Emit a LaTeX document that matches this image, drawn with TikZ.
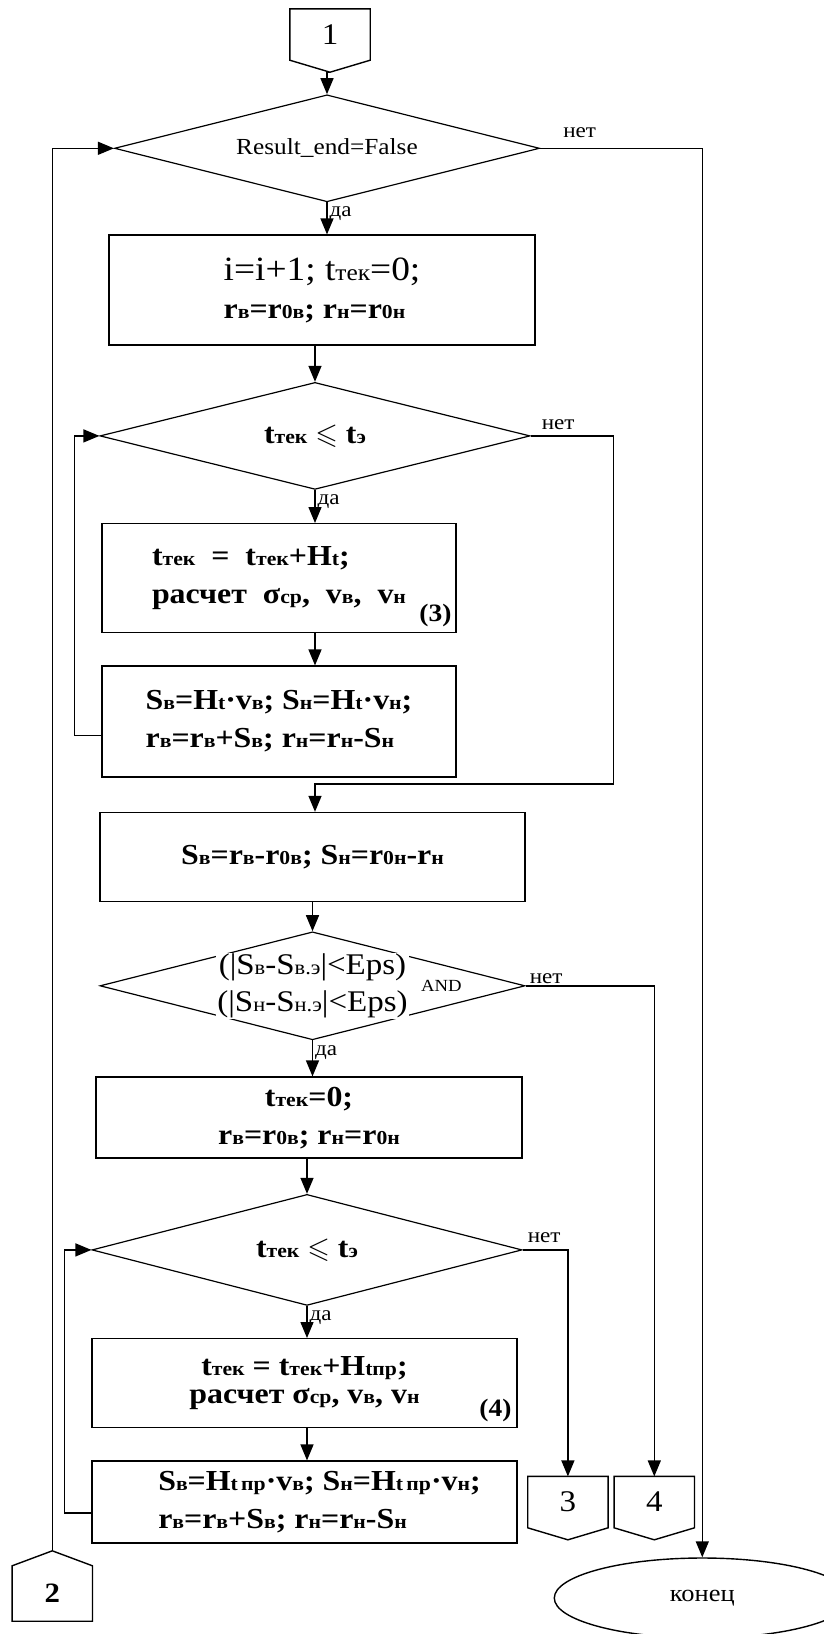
\documentclass[tikz,border=0pt]{standalone}
\usepackage{fontspec}
\usepackage{amssymb}
\setmainfont{Liberation Serif}[FakeStretch=1.1]
\usetikzlibrary{shapes.geometric, arrows.meta, positioning}

\newcommand\lw[1]{\scalebox{0.68}{#1}}
\newcommand\rb{\textbf{r}}

\tikzset{
  proc/.style={draw, rectangle, line width=1.4pt, inner sep=0pt, font=\bfseries\fontsize{29}{38}\selectfont},
  cond/.style={draw, diamond, aspect=4, line width=1.2pt, inner sep=0pt, font=\bfseries\fontsize{29}{38}\selectfont},
  conn/.style={minimum width=80pt, minimum height=51pt, inner sep=0pt, font=\fontsize{30}{30}\selectfont},
  stop/.style={draw, ellipse, line width=1.4pt, minimum width=296pt, minimum height=80pt, inner sep=0pt, font=\fontsize{24}{24}\selectfont},
  line/.style={line width=1.4pt},
  flow/.style={line width=1.4pt, -{Triangle[length=16pt,width=13pt]}},
  lbl/.style={inner sep=1pt, font=\fontsize{21}{21}\selectfont},
}

\begin{document}
\begin{tikzpicture}[x=1pt,y=-1pt]
\useasboundingbox (0,0) rectangle (823,1634);
\fill[white] (0,0) rectangle (823,1634);

\node[conn] (c1) at (330,34.5) {1};
\node[cond, minimum width=425pt, minimum height=107pt, below=34pt of c1, xshift=-3pt, font=\fontsize{23}{23}\selectfont] (d1) {Result\_end=False};
\node[proc, minimum width=426pt, minimum height=110pt, below=32pt of d1, xshift=-5pt, align=left] (b1)
  {{\mdseries\fontsize{34}{38}\selectfont i=i+1; t\lw{тек}=0;}\\ \rb\lw{в}=\rb\lw{0в}; \rb\lw{н}=\rb\lw{0н}};
\node[cond, minimum width=430pt, minimum height=107pt, below=36pt of b1, xshift=-7pt] (d2)
  {t\lw{тек} $\leqslant$ t\lw{э}};
\node[proc, minimum width=354pt, minimum height=109pt, below=33pt of d2, xshift=-36pt, align=left] (b2a)
  {t\lw{тек} \ = \ t\lw{тек}+H\lw{t};\\ расчет \ σ\lw{ср}, \ v\lw{в}, \ v\lw{н}};
\node[proc, minimum width=354pt, minimum height=111pt, below=32pt of b2a, align=left] (b2b)
  {S\lw{в}=H\lw{t}·v\lw{в}; S\lw{н}=H\lw{t}·v\lw{н};\\ \rb\lw{в}=\rb\lw{в}+S\lw{в}; \rb\lw{н}=\rb\lw{н}-S\lw{н}};
\node[inner sep=0pt, font=\bfseries\fontsize{25}{25}\selectfont, above left=6pt and 5pt of b2a.south east] (n3) {(3)};
\node[proc, minimum width=425pt, minimum height=89pt, below=34pt of b2b, xshift=33.5pt] (b3)
  {S\lw{в}=\rb\lw{в}-\rb\lw{0в}; S\lw{н}=\rb\lw{0н}-\rb\lw{н}};
\node[cond, minimum width=425pt, minimum height=108pt, below=29pt of b3] (d3) {};
\node[fill=white, inner sep=1pt, align=center, font=\fontsize{30}{37}\selectfont] (e3) at (d3)
  {(|S\lw{в}-S\lw{в.э}|<Eps)\\(|S\lw{н}-S\lw{н.э}|<Eps)};
\node[inner sep=0pt, font=\fontsize{17}{17}\selectfont, right=12pt of e3] (and3) {AND};
\node[proc, minimum width=426pt, minimum height=81pt, below=36pt of d3, xshift=-3.5pt, align=center] (b4)
  {t\lw{тек}=0;\\ \rb\lw{в}=\rb\lw{0в}; \rb\lw{н}=\rb\lw{0н}};
\node[cond, minimum width=430pt, minimum height=111pt, below=35pt of b4, xshift=-2pt] (d4)
  {t\lw{тек} $\leqslant$ t\lw{э}};
\node[proc, minimum width=425pt, minimum height=89pt, below=32pt of d4, xshift=-2.5pt, align=center, font=\bfseries\fontsize{29}{28}\selectfont] (b5a)
  {t\lw{тек} = t\lw{тек}+H\lw{tпр};\\ расчет σ\lw{ср}, v\lw{в}, v\lw{н}};
\node[proc, minimum width=425pt, minimum height=82pt, below=32pt of b5a, align=left] (b5b)
  {\hspace*{30pt}S\lw{в}=H\lw{t\,пр}·v\lw{в}; S\lw{н}=H\lw{t\,пр}·v\lw{н};\\ \hspace*{30pt}\rb\lw{в}=\rb\lw{в}+S\lw{в}; \rb\lw{н}=\rb\lw{н}-S\lw{н}};
\node[inner sep=0pt, font=\bfseries\fontsize{25}{25}\selectfont, above left=6pt and 6pt of b5a.south east] (n4) {(4)};
\node[conn, right=10pt of b5b] (c3) {3};
\node[conn, right=6pt of c3] (c4) {4};
\node[stop, below=29.5pt of c4, xshift=48pt] (konec) {конец};
\node[conn, minimum height=55pt, below=22pt of b5b.south west, xshift=-39pt, font=\bfseries\fontsize{28}{28}\selectfont] (c2) {2};

% connectors
\foreach \c in {c1,c3,c4}
  \draw[line] (\c.north west) -- (\c.north east) -- (\c.south east) -- ([yshift=-12pt]\c.south) -- (\c.south west) -- cycle;
\draw[line] (c2.south west) -- (c2.south east) -- (c2.north east) -- ([yshift=15pt]c2.north) -- (c2.north west) -- cycle;

% main flow
\draw[flow] ([yshift=-12pt]c1.south) -- ([yshift=-12pt]c1.south -| d1.north) -- (d1.north);
\draw[flow] (d1.south) -- (d1.south |- b1.north) node[lbl, pos=0.35, right=1pt] (yes1) {да};
\draw[flow] (b1.south -| d2.north) -- (d2.north);
\draw[flow] (d2.south) -- (d2.south |- b2a.north) node[lbl, pos=0.35, right=1pt] (yes2) {да};
\draw[flow] (b2a.south -| d2.south) -- (b2b.north -| d2.south);
\draw[flow] (b3.south -| d3.north) -- (d3.north);
\draw[flow] (d3.south) -- (d3.south |- b4.north) node[lbl, pos=0.35, right=1pt] (yes3) {да};
\draw[flow] (b4.south -| d4.north) -- (d4.north);
\draw[flow] (d4.south) -- (d4.south |- b5a.north) node[lbl, pos=0.35, right=1pt] (yes4) {да};
\draw[flow] (b5a.south -| d4.south) -- (b5b.north -| d4.south);

% loops
\draw[flow] ([yshift=-14pt]b2b.west) -- ++(-27,0) |- (d2.west);
\draw[flow] ([yshift=-11pt]b5b.west) -- ++(-27,0) |- (d4.west);
\draw[flow] ([yshift=15pt]c2.north) |- (d1.west);

% exits
\draw[flow] (d1.east) -| (konec.north);
\node[lbl, above right=9pt and 22pt of d1.east] (no1) {нет};
\draw[flow] (d2.east) -| ([xshift=83pt, yshift=28pt]d2.east |- b3.north) -- ([yshift=28pt]b3.north -| d2.south) -- (b3.north -| d2.south);
\node[lbl, above right=5pt and 10pt of d2.east] (no2) {нет};
\draw[flow] (d3.east) -| (c4.north);
\node[lbl, above right=1pt and 3pt of d3.east] (no3) {нет};
\draw[flow] (d4.east) -| (c3.north);
\node[lbl, above right=6pt and 4pt of d4.east] (no4) {нет};
\end{tikzpicture}
\end{document}
